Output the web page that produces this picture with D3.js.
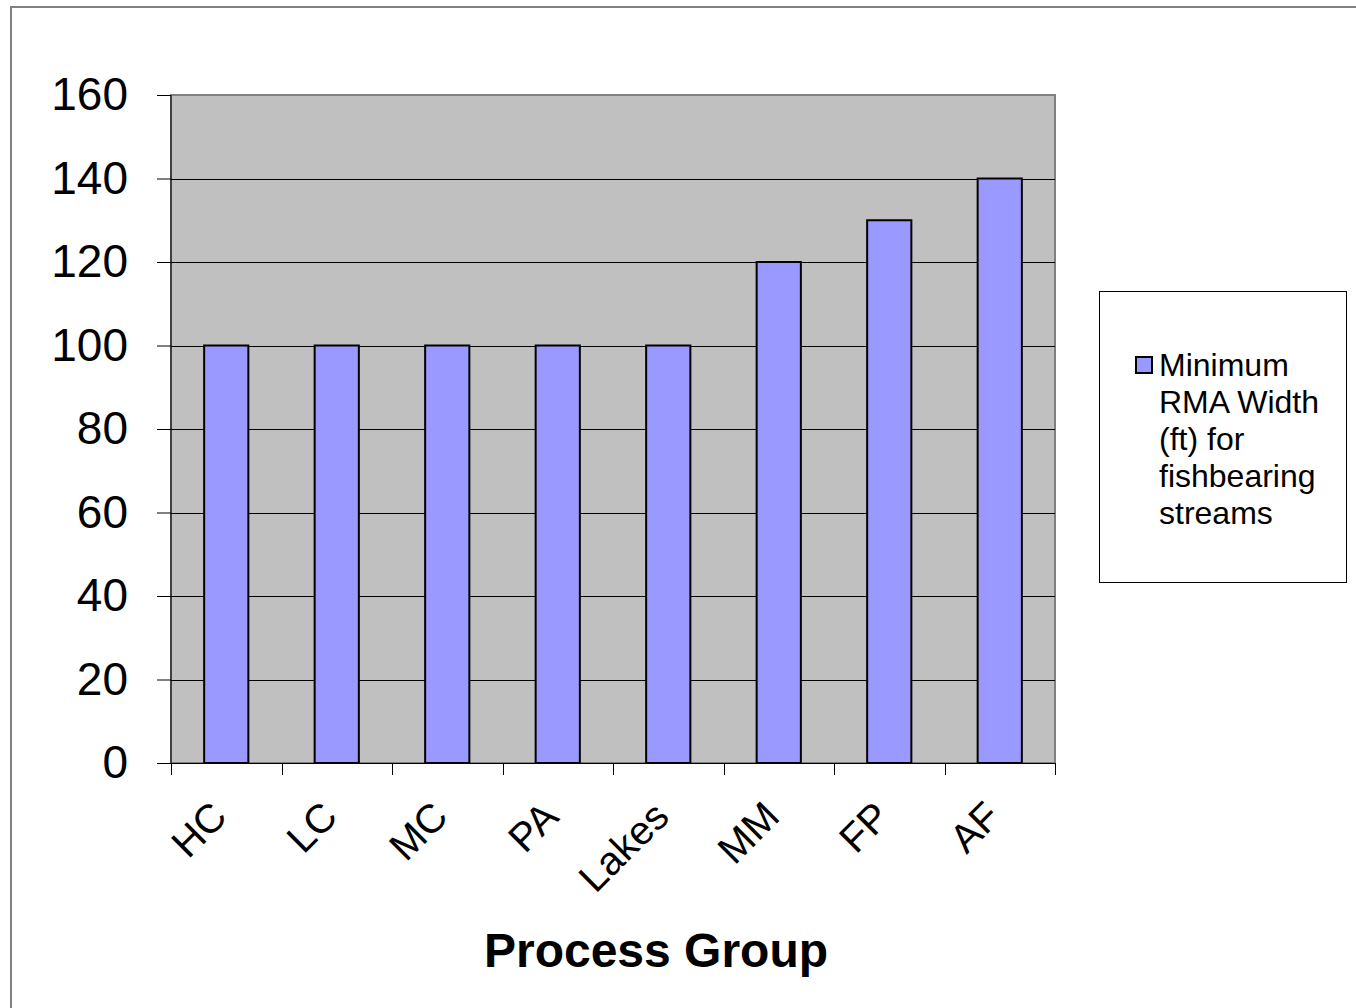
<!DOCTYPE html>
<html>
<head>
<meta charset="utf-8">
<script src="https://cdn.jsdelivr.net/npm/d3@7"></script>
<style>
  html, body { margin: 0; padding: 0; background: #fff; }
  svg { display: block; font-family: "Liberation Sans", Arial, sans-serif; }
</style>
</head>
<body>
<svg id="chart" width="1356" height="1008"></svg>
<script>
// Minimum riparian management area width per process group
const categories = ["HC", "LC", "MC", "PA", "Lakes", "MM", "FP", "AF"];
const widths = [100, 100, 100, 100, 100, 120, 130, 140];
const yTicks = [0, 20, 40, 60, 80, 100, 120, 140, 160];
const seriesName = ["Minimum", "RMA Width", "(ft) for", "fishbearing", "streams"];
const xTitle = "Process Group";

const svg = d3.select("#chart");

// outer chart frame
svg.append("rect")
  .attr("x", 11).attr("y", 7).attr("width", 1400).attr("height", 1100)
  .attr("fill", "#fff").attr("stroke", "#808080").attr("stroke-width", 2);

const plot = { left: 171, right: 1055, top: 95, bottom: 763 };

const x = d3.scaleBand().domain(categories).range([plot.left, plot.right]).paddingInner(0.6).paddingOuter(0.3);
const y = d3.scaleLinear().domain([0, 160]).range([plot.bottom, plot.top]);

// plot background
svg.append("rect")
  .attr("x", plot.left).attr("y", plot.top)
  .attr("width", plot.right - plot.left).attr("height", plot.bottom - plot.top)
  .attr("fill", "#c0c0c0").attr("stroke", "#808080").attr("stroke-width", 2);

// gridlines
svg.append("g").selectAll("line")
  .data(yTicks.filter(t => t > 0 && t < 160))
  .join("line")
  .attr("x1", plot.left).attr("x2", plot.right)
  .attr("y1", d => Math.round(y(d)) + 0.5).attr("y2", d => Math.round(y(d)) + 0.5)
  .attr("stroke", "#000").attr("stroke-width", 1);

// bars
svg.append("g").selectAll("rect")
  .data(categories.map((c, i) => ({ c, v: widths[i] })))
  .join("rect")
  .attr("x", d => x(d.c)).attr("width", x.bandwidth())
  .attr("y", d => y(d.v)).attr("height", d => y(0) - y(d.v))
  .attr("fill", "#9999ff").attr("stroke", "#000").attr("stroke-width", 2);

// y axis
const yAxis = svg.append("g")
  .attr("transform", `translate(${plot.left},0)`)
  .call(d3.axisLeft(y).tickValues(yTicks).tickSize(14).tickPadding(29));
yAxis.selectAll("line, path").attr("stroke", "#000").attr("stroke-width", 1);
yAxis.select(".domain").attr("d", `M0,${plot.top}V${plot.bottom}`);
yAxis.selectAll("text").attr("font-size", 46).attr("fill", "#000")
  .attr("font-family", "'Liberation Sans', Arial, sans-serif");

// x axis: ticks on category boundaries
const step = (plot.right - plot.left) / categories.length;
const xg = svg.append("g");
xg.append("line").attr("x1", plot.left - 14).attr("x2", plot.right)
  .attr("y1", plot.bottom + 0.5).attr("y2", plot.bottom + 0.5).attr("stroke", "#000");
xg.selectAll("line.tick")
  .data(d3.range(categories.length + 1))
  .join("line").attr("class", "tick")
  .attr("x1", i => Math.round(plot.left + i * step) + 0.5)
  .attr("x2", i => Math.round(plot.left + i * step) + 0.5)
  .attr("y1", plot.bottom).attr("y2", plot.bottom + 12)
  .attr("stroke", "#000");

xg.selectAll("text")
  .data(categories)
  .join("text")
  .attr("transform", d => `translate(${x(d) + x.bandwidth() / 2 - 17},${plot.bottom + 36}) rotate(-45)`)
  .attr("text-anchor", "end")
  .attr("dy", "0.7em")
  .attr("font-size", 40)
  .attr("fill", "#000")
  .text(d => d);

// axis title
svg.append("text")
  .attr("x", 656).attr("y", 967)
  .attr("text-anchor", "middle")
  .attr("font-size", 48).attr("font-weight", "bold")
  .text(xTitle);

// legend
const lg = svg.append("g");
lg.append("rect").attr("x", 1099.5).attr("y", 291.5).attr("width", 247).attr("height", 291)
  .attr("fill", "#fff").attr("stroke", "#000").attr("stroke-width", 1);
lg.append("rect").attr("x", 1136).attr("y", 357).attr("width", 16).attr("height", 16)
  .attr("fill", "#9999ff").attr("stroke", "#000").attr("stroke-width", 2);
lg.selectAll("text.item")
  .data(seriesName)
  .join("text").attr("class", "item")
  .attr("x", 1159).attr("y", (d, i) => 376 + i * 37)
  .attr("font-size", 32).attr("fill", "#000")
  .text(d => d);
</script>
</body>
</html>
